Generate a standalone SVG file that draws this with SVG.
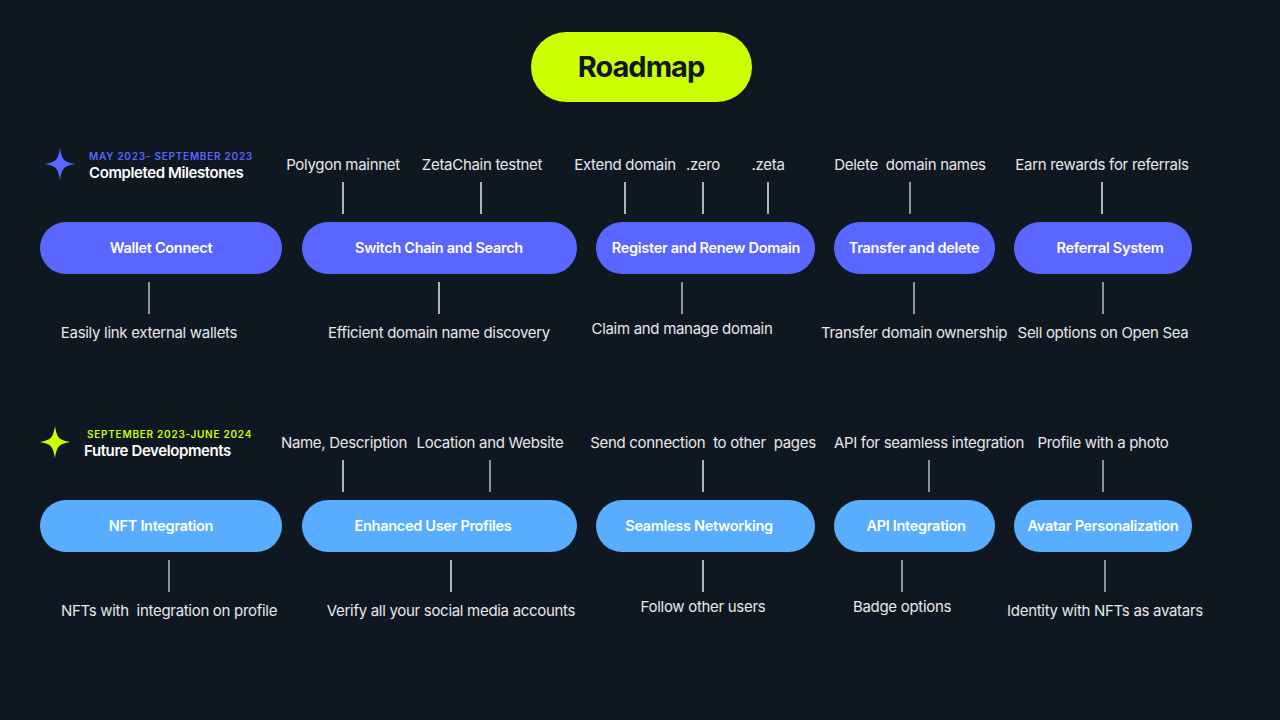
<svg xmlns="http://www.w3.org/2000/svg" width="1280" height="720" viewBox="0 0 1280 720">
<defs>
<style>
.lbl{font-family:Inter,"Liberation Sans",sans-serif;font-size:15px;fill:#e8e8ea;text-anchor:middle;letter-spacing:-0.3px}
.pt{font-family:Inter,"Liberation Sans",sans-serif;font-size:14.5px;font-weight:600;fill:#ffffff;text-anchor:middle;letter-spacing:-0.3px}
.p1{fill:#5966ff}
.p2{fill:#58adff}
.lw{stroke:#e8e8ea;stroke-width:1.5}
.lg{stroke:#8c9299;stroke-width:2}
.sub{font-family:Inter,"Liberation Sans",sans-serif;font-size:10px;font-weight:600;letter-spacing:0.75px}
.hd{font-family:Inter,"Liberation Sans",sans-serif;font-size:15px;font-weight:600;fill:#ffffff;letter-spacing:-0.4px}
</style>
<path id="star" d="M0,-16 C2,-4 4,-2 15,0 C4,2 2,4 0,16 C-2,4 -4,2 -15,0 C-4,-2 -2,-4 0,-16 Z"/>
</defs>
<rect width="1280" height="720" fill="#0f1820"/>

<g id="title">
<rect x="531" y="32" width="221" height="70" rx="35" fill="#ccff00"/>
<text x="641" y="77" font-family="Inter,'Liberation Sans',sans-serif" font-size="29" font-weight="700" fill="#0f1820" text-anchor="middle" letter-spacing="-1">Roadmap</text>
</g>

<g id="header1">
<use href="#star" x="60" y="164" fill="#5966ff"/>
<text class="sub" x="89" y="159.5" fill="#5966ff">MAY 2023- SEPTEMBER 2023</text>
<text class="hd" x="89" y="178">Completed Milestones</text>
</g>
<g id="header2">
<use href="#star" x="55" y="442" fill="#ccff00"/>
<text class="sub" x="87" y="437.5" fill="#ccff00">SEPTEMBER 2023-JUNE 2024</text>
<text class="hd" x="84" y="456">Future Developments</text>
</g>

<g id="connectors">
<line class="lw" x1="343" y1="182" x2="343" y2="214"/>
<line class="lw" x1="481" y1="182" x2="481" y2="214"/>
<line class="lw" x1="625" y1="182" x2="625" y2="214"/>
<line class="lw" x1="703" y1="182" x2="703" y2="214"/>
<line class="lw" x1="768" y1="182" x2="768" y2="214"/>
<line class="lg" x1="910" y1="182" x2="910" y2="214"/>
<line class="lw" x1="1102" y1="182" x2="1102" y2="214"/>
<line class="lg" x1="149" y1="282" x2="149" y2="314"/>
<line class="lw" x1="439" y1="282" x2="439" y2="314"/>
<line class="lg" x1="682" y1="282" x2="682" y2="314"/>
<line class="lg" x1="914" y1="282" x2="914" y2="314"/>
<line class="lg" x1="1103" y1="282" x2="1103" y2="314"/>
<line class="lw" x1="343" y1="460" x2="343" y2="492"/>
<line class="lg" x1="490" y1="460" x2="490" y2="492"/>
<line class="lw" x1="703" y1="460" x2="703" y2="492"/>
<line class="lg" x1="929" y1="460" x2="929" y2="492"/>
<line class="lg" x1="1103" y1="460" x2="1103" y2="492"/>
<line class="lg" x1="169" y1="560" x2="169" y2="592"/>
<line class="lw" x1="451" y1="560" x2="451" y2="592"/>
<line class="lw" x1="703" y1="560" x2="703" y2="592"/>
<line class="lg" x1="902" y1="560" x2="902" y2="592"/>
<line class="lg" x1="1105" y1="560" x2="1105" y2="592"/>
</g>

<g id="wallet-connect">
<rect class="p1" x="40" y="222" width="242" height="52" rx="26"/>
<text class="pt" x="161" y="253">Wallet Connect</text>
<text class="lbl" x="149" y="338">Easily link external wallets</text>
</g>
<g id="switch-chain">
<rect class="p1" x="302" y="222" width="275" height="52" rx="26"/>
<text class="pt" x="439" y="253">Switch Chain and Search</text>
<text class="lbl" x="343" y="170">Polygon mainnet</text>
<text class="lbl" x="482" y="170">ZetaChain testnet</text>
<text class="lbl" x="439" y="338">Efficient domain name discovery</text>
</g>
<g id="register-renew">
<rect class="p1" x="596" y="222" width="219" height="52" rx="26"/>
<text class="pt" x="706" y="253">Register and Renew Domain</text>
<text class="lbl" x="625" y="170">Extend domain</text>
<text class="lbl" x="703" y="170">.zero</text>
<text class="lbl" x="768" y="170">.zeta</text>
<text class="lbl" x="682" y="334">Claim and manage domain</text>
</g>
<g id="transfer-delete">
<rect class="p1" x="834" y="222" width="161" height="52" rx="26"/>
<text class="pt" x="914" y="253">Transfer and delete</text>
<text class="lbl" x="910" y="170" xml:space="preserve">Delete  domain names</text>
<text class="lbl" x="914" y="338">Transfer domain ownership</text>
</g>
<g id="referral-system">
<rect class="p1" x="1014" y="222" width="178" height="52" rx="26"/>
<text class="pt" x="1110" y="253">Referral System</text>
<text class="lbl" x="1102" y="170">Earn rewards for referrals</text>
<text class="lbl" x="1103" y="338">Sell options on Open Sea</text>
</g>

<g id="nft-integration">
<rect class="p2" x="40" y="500" width="242" height="52" rx="26"/>
<text class="pt" x="161" y="531">NFT Integration</text>
<text class="lbl" x="169" y="616" xml:space="preserve">NFTs with  integration on profile</text>
</g>
<g id="enhanced-profiles">
<rect class="p2" x="302" y="500" width="275" height="52" rx="26"/>
<text class="pt" x="433" y="531">Enhanced User Profiles</text>
<text class="lbl" x="344" y="448">Name, Description</text>
<text class="lbl" x="490" y="448">Location and Website</text>
<text class="lbl" x="451" y="616">Verify all your social media accounts</text>
</g>
<g id="seamless-networking">
<rect class="p2" x="596" y="500" width="219" height="52" rx="26"/>
<text class="pt" x="699" y="531">Seamless Networking</text>
<text class="lbl" x="703" y="448" xml:space="preserve">Send connection  to other  pages</text>
<text class="lbl" x="703" y="612">Follow other users</text>
</g>
<g id="api-integration">
<rect class="p2" x="834" y="500" width="161" height="52" rx="26"/>
<text class="pt" x="916" y="531">API Integration</text>
<text class="lbl" x="929" y="448">API for seamless integration</text>
<text class="lbl" x="902" y="612">Badge options</text>
</g>
<g id="avatar-personalization">
<rect class="p2" x="1014" y="500" width="178" height="52" rx="26"/>
<text class="pt" x="1103" y="531">Avatar Personalization</text>
<text class="lbl" x="1103" y="448">Profile with a photo</text>
<text class="lbl" x="1105" y="616">Identity with NFTs as avatars</text>
</g>
</svg>
